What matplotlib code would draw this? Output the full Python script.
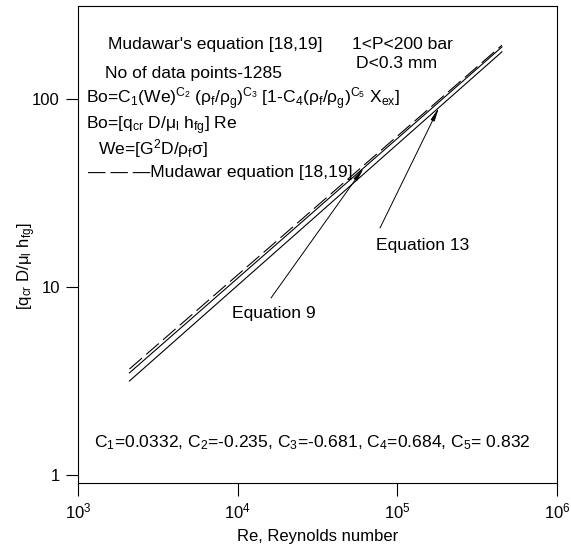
import matplotlib
matplotlib.use('Agg')
import matplotlib.pyplot as plt
import numpy as np

matplotlib.rcParams['font.family'] = ['Liberation Sans', 'DejaVu Sans']
matplotlib.rcParams['mathtext.fontset'] = 'custom'
matplotlib.rcParams['mathtext.rm'] = 'Liberation Sans'
matplotlib.rcParams['mathtext.it'] = 'Liberation Sans'
matplotlib.rcParams['mathtext.bf'] = 'Liberation Sans:bold'
matplotlib.rcParams['mathtext.sf'] = 'Liberation Sans'

# data (straight lines on log-log axes)
re = [2.1e3, 4.52e5]
mudawar = [3.66, 193]
eq9 = [3.49, 189]
eq13 = [3.16, 178]

W, H = 571, 548
fig = plt.figure(figsize=(W / 100, H / 100), dpi=100)
ax = fig.add_axes([78 / W, 1 - 483 / H, (557 - 78) / W, (483 - 6) / H])

ax.plot(re, mudawar, color='black', lw=0.8, dashes=(15, 5))
ax.plot(re, eq9, color='black', lw=0.8)
ax.plot(re, eq13, color='black', lw=0.8)

ax.set_xscale('log')
ax.set_yscale('log')
ax.set_xlim(1e3, 1e6)
ax.set_ylim(0.906, 312)
ax.set_xticks([1e3, 1e4, 1e5, 1e6])
ax.set_yticks([1, 10, 100])
ax.set_yticklabels(['1', '10', '100'])
ax.minorticks_off()
ax.tick_params(direction='out', length=9, width=0.8, labelsize=12, pad=4)
for s in ax.spines.values():
    s.set_linewidth(0.8)

ax.set_xlabel('Re, Reynolds number', fontsize=12, labelpad=6)
fig.text(27 / W, 1 - 266 / H, r'[q$_{cr}$ D/$\mu_l$ h$_{fg}$]', rotation=90,
         ha='center', va='center', fontsize=12)


def ftext(x, y, s, **kw):
    # x, y in pixels from top-left, y is the baseline
    fig.text(x / W, 1 - y / H, s, va='baseline', fontsize=12.6, **kw)


ftext(108, 49, "Mudawar's equation [18,19]")
ftext(105, 78, 'No of data points-1285')
ftext(86, 104, r'Bo=C$_1$(We)$^{C_2}$ ($\rho_f/\rho_g$)$^{C_3}$ [1-C$_4$($\rho_f/\rho_g$)$^{C_5}$ X$_{ex}$]')
ftext(86, 129, r'Bo=[q$_{cr}$ D/$\mu_l$ h$_{fg}$] Re')
ftext(98, 154, r'We=[G$^2$D/$\rho_f\sigma$]')
ftext(88, 177, '\u2014 \u2014 \u2014Mudawar equation [18,19]')
ftext(352, 49, '1<P<200 bar')
ftext(356, 68, 'D<0.3 mm')
ftext(274, 318, 'Equation 9', ha='center')
ftext(423, 250, 'Equation 13', ha='center')
ftext(94, 447, r'C$_1$=0.0332, C$_2$=-0.235, C$_3$=-0.681, C$_4$=0.684, C$_5$= 0.832')


def on_line(xv, xs, ys):
    return 10 ** np.interp(np.log10(xv), np.log10(xs), np.log10(ys))


arrow = dict(arrowstyle='-|>,head_length=0.8,head_width=0.12', lw=0.7,
             color='black', shrinkA=0, shrinkB=0, mutation_scale=10)
tip9 = 10 ** 4.79
ax.annotate('', xy=(tip9, on_line(tip9, re, eq9)), xycoords='data',
            xytext=(271, H - 298), textcoords='figure pixels', arrowprops=arrow)
tip13 = 10 ** 5.261
ax.annotate('', xy=(tip13, on_line(tip13, re, eq13)), xycoords='data',
            xytext=(380, H - 228), textcoords='figure pixels', arrowprops=arrow)

fig.savefig('out.png', dpi=100)
